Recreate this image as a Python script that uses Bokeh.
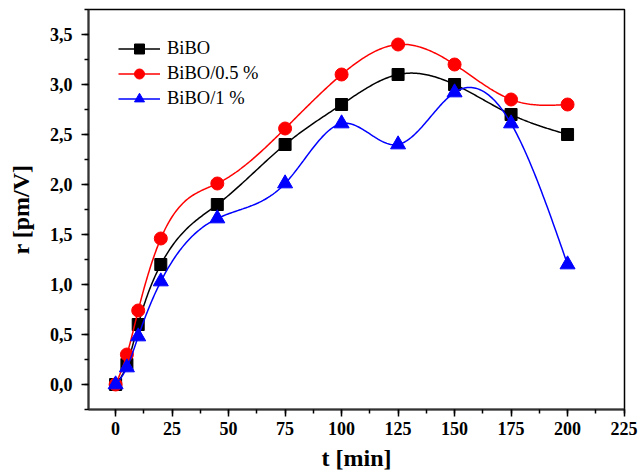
import numpy as np
from bokeh.plotting import figure
from bokeh.models import (Range1d, SingleIntervalTicker, CustomJSTickFormatter,
                          Legend, LegendItem, ColumnDataSource)
from bokeh.embed import file_html
from bokeh.resources import INLINE

# ---- data ----
t = [0, 5, 10, 20, 45, 75, 100, 125, 150, 175, 200]
r_bibo = [0.0, 0.2, 0.6, 1.2, 1.8, 2.4, 2.8, 3.1, 3.0, 2.7, 2.5]
r_bibo05 = [0.0, 0.3, 0.74, 1.46, 2.01, 2.56, 3.1, 3.4, 3.2, 2.85, 2.8]
r_bibo1 = [0.0, 0.17, 0.48, 1.03, 1.66, 2.01, 2.61, 2.4, 2.92, 2.61, 1.2]

series_names = ["BiBO", "BiBO/0.5 %", "BiBO/1 %"]
series_colors = ["black", "red", "blue"]
series_markers = ["square", "circle", "triangle"]
series_sizes = [12, 13, 15]

x_label = "t [min]"
y_label = "r [pm/V]"


def natural_spline(x, y, n=40):
    """Natural cubic spline through the data points (spline connector)."""
    x = np.asarray(x, float)
    y = np.asarray(y, float)
    k = len(x)
    h = np.diff(x)
    A = np.zeros((k, k))
    b = np.zeros(k)
    A[0, 0] = 1.0
    A[-1, -1] = 1.0
    for i in range(1, k - 1):
        A[i, i - 1] = h[i - 1]
        A[i, i] = 2 * (h[i - 1] + h[i])
        A[i, i + 1] = h[i]
        b[i] = 6 * ((y[i + 1] - y[i]) / h[i] - (y[i] - y[i - 1]) / h[i - 1])
    M = np.linalg.solve(A, b)
    xs, ys = [], []
    for i in range(k - 1):
        u = np.linspace(x[i], x[i + 1], n, endpoint=(i == k - 2))
        a = x[i + 1] - u
        c = u - x[i]
        s = (M[i] * a ** 3 + M[i + 1] * c ** 3) / (6 * h[i]) \
            + (y[i] / h[i] - M[i] * h[i] / 6) * a \
            + (y[i + 1] / h[i] - M[i + 1] * h[i] / 6) * c
        xs.extend(u.tolist())
        ys.extend(s.tolist())
    return xs, ys


FONT = "Liberation Serif"

p = figure(width=644, height=473, output_backend="svg", toolbar_location=None,
           x_range=Range1d(-12, 225.2), y_range=Range1d(-0.25, 3.75),
           min_border_left=88, min_border_right=20, min_border_top=9,
           min_border_bottom=64)
p.grid.visible = False
p.outline_line_color = "black"
p.outline_line_width = 1.5
p.background_fill_color = "white"
p.border_fill_color = "white"

fmt = CustomJSTickFormatter(code="return tick.toFixed(1).replace('.', ',');")
xfmt = CustomJSTickFormatter(code="return tick.toFixed(0);")

for ax in (p.xaxis[0], p.yaxis[0]):
    ax.axis_line_width = 2
    ax.axis_line_color = "#333333"
    ax.major_tick_line_width = 1.5
    ax.minor_tick_line_width = 1.5
    ax.major_tick_out = 7
    ax.major_tick_in = 0
    ax.minor_tick_out = 4
    ax.minor_tick_in = 0
    ax.major_label_text_font = FONT
    ax.major_label_text_font_style = "bold"
    ax.major_label_text_font_size = "18px"
    ax.major_label_text_color = "black"
    ax.axis_label_text_font = FONT
    ax.axis_label_text_font_style = "bold"
    ax.axis_label_text_font_size = "24px"
    ax.axis_label_text_color = "black"

p.xaxis[0].ticker = SingleIntervalTicker(interval=25, num_minor_ticks=2)
p.xaxis[0].formatter = xfmt
p.xaxis[0].axis_label = x_label
p.xaxis[0].major_label_standoff = 5
p.xaxis[0].axis_label_standoff = 7

p.yaxis[0].ticker = SingleIntervalTicker(interval=0.5, num_minor_ticks=2)
p.yaxis[0].formatter = fmt
p.yaxis[0].axis_label = y_label
p.yaxis[0].major_label_standoff = 9
p.yaxis[0].axis_label_standoff = 13

items = []
for name, col, mk, sz, ys in zip(series_names, series_colors, series_markers,
                                  series_sizes, [r_bibo, r_bibo05, r_bibo1]):
    sx, sy = natural_spline(t, ys)
    lr = p.line(sx, sy, line_color=col, line_width=1.5)
    src = ColumnDataSource(dict(x=t, y=ys))
    sr = p.scatter("x", "y", source=src, marker=mk, size=sz, fill_color=col,
                   line_color=col)
    items.append(LegendItem(label=name, renderers=[lr, sr]))

legend = Legend(items=items, location=(30, 298), border_line_color=None,
                background_fill_alpha=0, glyph_width=42, glyph_height=25,
                label_height=25, spacing=0, padding=5, margin=0,
                label_standoff=7, label_text_font=FONT,
                label_text_font_size="18.5px", label_text_color="black")
p.add_layout(legend, "center")

open("out.html", "w").write(file_html(p, INLINE))
